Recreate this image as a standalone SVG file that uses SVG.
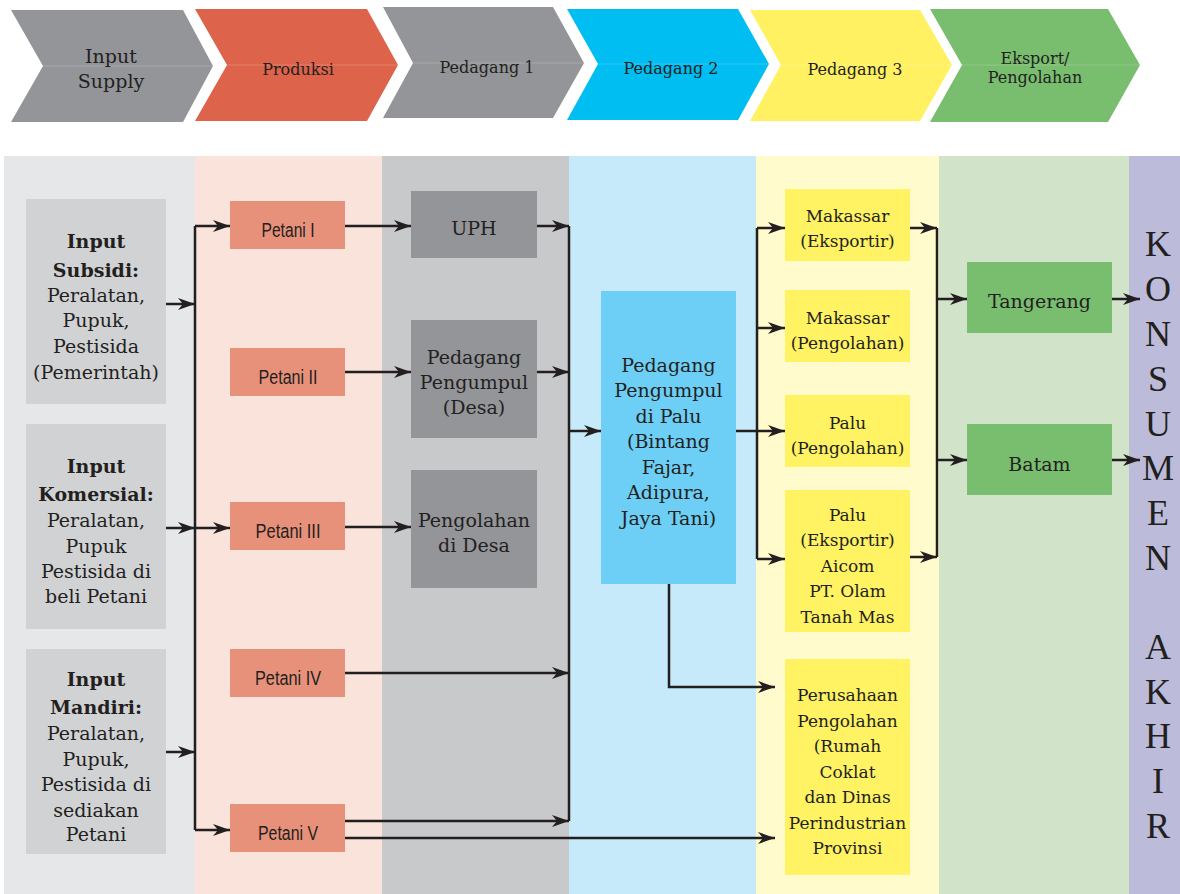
<svg xmlns="http://www.w3.org/2000/svg" width="1180" height="894" viewBox="0 0 1180 894">
  <style>
    .t { font-family: "DejaVu Serif", "Liberation Serif", serif; fill: #231f20; text-anchor: middle; }
    .hd { font-size: 16px; }
    .in { font-size: 19px; }
    .inb { font-size: 19px; font-weight: bold; }
    .pt { font-family: "Liberation Sans", Arial, sans-serif; font-size: 20px; fill: #231f20; text-anchor: middle; }
    .g19 { font-size: 19px; }
    .y17 { font-size: 17px; }
    .kon { font-family: "Liberation Serif", serif; font-size: 36px; fill: #231f20; text-anchor: middle; }
    .seam { stroke: #ffffff; stroke-opacity: 0.18; stroke-width: 1; }
    .conn path { fill: none; stroke: #231f20; stroke-width: 2.5; }
    .arr { marker-end: url(#arrow); }
  </style>
  <defs>
    <marker id="arrow" markerUnits="userSpaceOnUse" markerWidth="17" markerHeight="12" refX="17" refY="6" orient="auto">
      <path d="M0,0 L17,6 L0,12 L5,6 Z" fill="#231f20"/>
    </marker>
  </defs>

  <!-- stage header chevrons -->
  <g id="stage-input-supply">
    <polygon points="11,10 183,10 213,66 183,122 11,122 43,66" fill="#939598"/>
    <line class="seam" x1="43" y1="66" x2="213" y2="66"/>
    <text class="t in" x="111" y="63">Input</text>
    <text class="t in" x="111" y="88">Supply</text>
  </g>
  <g id="stage-produksi">
    <polygon points="195,9 367,9 398,65 367,121 195,121 227,65" fill="#dd634b"/>
    <line class="seam" x1="227" y1="65" x2="398" y2="65"/>
    <text class="t hd" x="298" y="75">Produksi</text>
  </g>
  <g id="stage-pedagang-1">
    <polygon points="383,7 553,7 584,63 553,118 383,118 413,63" fill="#939598"/>
    <line class="seam" x1="413" y1="63" x2="584" y2="63"/>
    <text class="t hd" x="487" y="73">Pedagang 1</text>
  </g>
  <g id="stage-pedagang-2">
    <polygon points="567,9 738,9 769,64 738,120 567,120 598,64" fill="#00bdf2"/>
    <line class="seam" x1="598" y1="64" x2="769" y2="64"/>
    <text class="t hd" x="671" y="74">Pedagang 2</text>
  </g>
  <g id="stage-pedagang-3">
    <polygon points="750,10 920,10 952,65 920,121 750,121 781,65" fill="#fff162"/>
    <line class="seam" x1="781" y1="65" x2="952" y2="65"/>
    <text class="t hd" x="855" y="75">Pedagang 3</text>
  </g>
  <g id="stage-eksport">
    <polygon points="930,9 1108,9 1140,65 1108,122 930,122 962,65" fill="#79bd6f"/>
    <line class="seam" x1="962" y1="65" x2="1140" y2="65"/>
    <text class="t hd" x="1035" y="64">Eksport/</text>
    <text class="t hd" x="1035" y="83">Pengolahan</text>
  </g>

  <!-- column bands -->
  <g id="bands">
    <rect x="4" y="156" width="191" height="738" fill="#e6e7e8"/>
    <rect x="195" y="156" width="187" height="738" fill="#f9e3da"/>
    <rect x="382" y="156" width="187" height="738" fill="#c8c9cb"/>
    <rect x="569" y="156" width="187" height="738" fill="#c6eaf9"/>
    <rect x="756" y="156" width="183" height="738" fill="#fffbcc"/>
    <rect x="939" y="156" width="190" height="738" fill="#d1e4c9"/>
    <rect x="1129" y="156" width="51" height="738" fill="#bcbbd9"/>
  </g>

  <!-- input nodes -->
  <g id="input-subsidi">
    <rect x="26" y="199" width="140" height="205" fill="#d1d2d4"/>
    <text class="t inb" x="96" y="248">Input</text>
    <text class="t inb" x="96" y="277">Subsidi:</text>
    <text class="t in" x="96" y="302">Peralatan,</text>
    <text class="t in" x="96" y="327">Pupuk,</text>
    <text class="t in" x="96" y="353">Pestisida</text>
    <text class="t in" x="96" y="379">(Pemerintah)</text>
  </g>
  <g id="input-komersial">
    <rect x="26" y="424" width="140" height="205" fill="#d1d2d4"/>
    <text class="t inb" x="96" y="473">Input</text>
    <text class="t inb" x="96" y="501">Komersial:</text>
    <text class="t in" x="96" y="527">Peralatan,</text>
    <text class="t in" x="96" y="553">Pupuk</text>
    <text class="t in" x="96" y="578">Pestisida di</text>
    <text class="t in" x="96" y="603">beli Petani</text>
  </g>
  <g id="input-mandiri">
    <rect x="26" y="649" width="140" height="205" fill="#d1d2d4"/>
    <text class="t inb" x="96" y="686">Input</text>
    <text class="t inb" x="96" y="714">Mandiri:</text>
    <text class="t in" x="96" y="740">Peralatan,</text>
    <text class="t in" x="96" y="766">Pupuk,</text>
    <text class="t in" x="96" y="791">Pestisida di</text>
    <text class="t in" x="96" y="817">sediakan</text>
    <text class="t in" x="96" y="841">Petani</text>
  </g>

  <!-- producers -->
  <g id="petani-1">
    <rect x="230" y="201" width="115" height="48" fill="#e8917a"/>
    <text class="pt" x="288" y="237" textLength="53" lengthAdjust="spacingAndGlyphs">Petani I</text>
  </g>
  <g id="petani-2">
    <rect x="230" y="348" width="115" height="48" fill="#e8917a"/>
    <text class="pt" x="288" y="384" textLength="59" lengthAdjust="spacingAndGlyphs">Petani II</text>
  </g>
  <g id="petani-3">
    <rect x="230" y="502" width="115" height="48" fill="#e8917a"/>
    <text class="pt" x="288" y="538" textLength="65" lengthAdjust="spacingAndGlyphs">Petani III</text>
  </g>
  <g id="petani-4">
    <rect x="230" y="649" width="115" height="48" fill="#e8917a"/>
    <text class="pt" x="288" y="685" textLength="66" lengthAdjust="spacingAndGlyphs">Petani IV</text>
  </g>
  <g id="petani-5">
    <rect x="230" y="804" width="115" height="48" fill="#e8917a"/>
    <text class="pt" x="288" y="840" textLength="60" lengthAdjust="spacingAndGlyphs">Petani V</text>
  </g>

  <!-- first-level traders -->
  <g id="uph">
    <rect x="411" y="191" width="126" height="67" fill="#939598"/>
    <text class="t g19" x="474" y="235" font-size="20">UPH</text>
  </g>
  <g id="pedagang-pengumpul-desa">
    <rect x="411" y="320" width="126" height="118" fill="#939598"/>
    <text class="t g19" x="474" y="364">Pedagang</text>
    <text class="t g19" x="474" y="389">Pengumpul</text>
    <text class="t g19" x="474" y="414">(Desa)</text>
  </g>
  <g id="pengolahan-desa">
    <rect x="411" y="470" width="126" height="118" fill="#939598"/>
    <text class="t g19" x="474" y="527">Pengolahan</text>
    <text class="t g19" x="474" y="552">di Desa</text>
  </g>

  <!-- second-level trader -->
  <g id="pedagang-pengumpul-palu">
    <rect x="601" y="291" width="135" height="293" fill="#6dcff6"/>
    <text class="t g19" x="668.5" y="372">Pedagang</text>
    <text class="t g19" x="668.5" y="397">Pengumpul</text>
    <text class="t g19" x="668.5" y="423">di Palu</text>
    <text class="t g19" x="668.5" y="448">(Bintang</text>
    <text class="t g19" x="668.5" y="474">Fajar,</text>
    <text class="t g19" x="668.5" y="499">Adipura,</text>
    <text class="t g19" x="668.5" y="525">Jaya Tani)</text>
  </g>

  <!-- third-level traders -->
  <g id="makassar-eksportir">
    <rect x="785" y="189" width="125" height="72" fill="#fff263"/>
    <text class="t y17" x="847.5" y="222">Makassar</text>
    <text class="t y17" x="847.5" y="247">(Eksportir)</text>
  </g>
  <g id="makassar-pengolahan">
    <rect x="785" y="290" width="125" height="72" fill="#fff263"/>
    <text class="t y17" x="847.5" y="324">Makassar</text>
    <text class="t y17" x="847.5" y="349">(Pengolahan)</text>
  </g>
  <g id="palu-pengolahan">
    <rect x="785" y="395" width="125" height="72" fill="#fff263"/>
    <text class="t y17" x="847.5" y="429">Palu</text>
    <text class="t y17" x="847.5" y="454">(Pengolahan)</text>
  </g>
  <g id="palu-eksportir">
    <rect x="785" y="490" width="125" height="142" fill="#fff263"/>
    <text class="t y17" x="847.5" y="521">Palu</text>
    <text class="t y17" x="847.5" y="546">(Eksportir)</text>
    <text class="t y17" x="847.5" y="572">Aicom</text>
    <text class="t y17" x="847.5" y="597">PT. Olam</text>
    <text class="t y17" x="847.5" y="623">Tanah Mas</text>
  </g>
  <g id="perusahaan-pengolahan">
    <rect x="785" y="659" width="125" height="216" fill="#fff263"/>
    <text class="t y17" x="847.5" y="701">Perusahaan</text>
    <text class="t y17" x="847.5" y="727">Pengolahan</text>
    <text class="t y17" x="847.5" y="752">(Rumah</text>
    <text class="t y17" x="847.5" y="778">Coklat</text>
    <text class="t y17" x="847.5" y="803">dan Dinas</text>
    <text class="t y17" x="847.5" y="829">Perindustrian</text>
    <text class="t y17" x="847.5" y="854">Provinsi</text>
  </g>

  <!-- export / processing -->
  <g id="tangerang">
    <rect x="967" y="262" width="145" height="71" fill="#79bd6f"/>
    <text class="t g19" x="1039.5" y="308">Tangerang</text>
  </g>
  <g id="batam">
    <rect x="967" y="424" width="145" height="71" fill="#79bd6f"/>
    <text class="t g19" x="1039.5" y="471">Batam</text>
  </g>

  <!-- end consumer -->
  <g id="konsumen-akhir">
    <text class="kon" x="1158" y="256">K</text>
    <text class="kon" x="1158" y="301">O</text>
    <text class="kon" x="1158" y="346">N</text>
    <text class="kon" x="1158" y="391">S</text>
    <text class="kon" x="1158" y="436">U</text>
    <text class="kon" x="1158" y="480">M</text>
    <text class="kon" x="1158" y="525">E</text>
    <text class="kon" x="1158" y="570">N</text>
    <text class="kon" x="1158" y="659">A</text>
    <text class="kon" x="1158" y="704">K</text>
    <text class="kon" x="1158" y="748">H</text>
    <text class="kon" x="1158" y="793">I</text>
    <text class="kon" x="1158" y="838">R</text>
  </g>

  <!-- connectors -->
  <g id="connectors" class="conn">
    <!-- input bus to producers -->
    <path d="M195,226 V830"/>
    <path class="arr" d="M166,304 H195"/>
    <path class="arr" d="M166,528 H195"/>
    <path class="arr" d="M166,752 H195"/>
    <path class="arr" d="M195,226 H230"/>
    <path class="arr" d="M195,528 H230"/>
    <path class="arr" d="M195,830 H230"/>
    <!-- producers to first-level traders -->
    <path class="arr" d="M345,226 H411"/>
    <path class="arr" d="M345,372 H411"/>
    <path class="arr" d="M345,527 H411"/>
    <path class="arr" d="M345,673 H569"/>
    <path class="arr" d="M345,821 H569"/>
    <path class="arr" d="M345,838 H775"/>
    <!-- first-level bus to Palu collector -->
    <path class="arr" d="M537,226 H569"/>
    <path class="arr" d="M537,372 H569"/>
    <path d="M569,226 V821"/>
    <path class="arr" d="M569,431 H601"/>
    <!-- Palu collector to third-level traders -->
    <path class="arr" d="M736,431 H785"/>
    <path d="M757,228 V559"/>
    <path class="arr" d="M757,228 H785"/>
    <path class="arr" d="M757,328 H785"/>
    <path class="arr" d="M757,559 H785"/>
    <path class="arr" d="M669,584 V687 H775"/>
    <!-- exporters to export destinations -->
    <path class="arr" d="M910,228 H937"/>
    <path class="arr" d="M910,557 H937"/>
    <path d="M937,228 V557"/>
    <path class="arr" d="M937,299 H967"/>
    <path class="arr" d="M937,460 H967"/>
    <!-- destinations to end consumer -->
    <path class="arr" d="M1112,299 H1140"/>
    <path class="arr" d="M1112,460 H1140"/>
  </g>
</svg>
